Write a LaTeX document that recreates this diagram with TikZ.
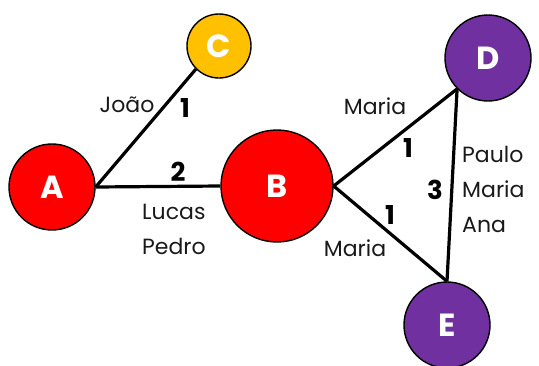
\documentclass[tikz,border=0pt]{standalone}
\usepackage{fontspec}
\setmainfont{Poppins}
\definecolor{nodered}{HTML}{FF0000}
\definecolor{nodegold}{HTML}{FFC000}
\definecolor{nodepurple}{HTML}{7030A0}
\begin{document}
\begin{tikzpicture}[x=1pt,y=-1pt,
  vertex/.style={circle,draw=black,line width=1.4pt,inner sep=0pt,text=white,
    font=\bfseries\fontsize{32}{32}\selectfont},
  link/.style={line width=3.2pt,black},
  who/.style={font=\fontsize{22}{35}\selectfont,text=black!90,inner sep=0pt,align=left},
  weight/.style={font=\bfseries\fontsize{26}{26}\selectfont,inner sep=0pt}]
\useasboundingbox (0,0) rectangle (539,365);

% vertices
\node[vertex,fill=nodered,minimum size=86pt]     (A) at (52,187)  {A};
\node[vertex,fill=nodegold,minimum size=64pt]    (C) at (219,46)  {C};
\node[vertex,fill=nodered,minimum size=112pt]    (B) at (277,186) {B};
\node[vertex,fill=nodepurple,minimum size=86pt]  (D) at (488,58)  {D};
\node[vertex,fill=nodepurple,minimum size=86pt]  (E) at (447,325) {E};

% edges
\draw[link] (A.east) -- (C.south west);
\draw[link] (A.east) -- (B.west);
\draw[link] (B.east) -- (D.south west);
\draw[link] (B.east) -- (E.north);
\draw[link] (D.south west) -- (E.north);

% edge weights
\node[weight] (wAC) at (185,108) {1};
\node[weight] (wAB) at (178,172) {2};
\node[weight] (wBD) at (408,148) {1};
\node[weight] (wBE) at (390,215) {1};
\node[weight] (wDE) at (435,190) {3};

% people on each edge
\node[who] (pAC) at (127,105) {João};
\node[who,anchor=west] (pAB) at (142,229) {Lucas\\Pedro};
\node[who] (pBD) at (375,106) {Maria};
\node[who] (pBE) at (355,248) {Maria};
\node[who,anchor=west] (pDE) at (462,189) {Paulo\\Maria\\Ana};
\end{tikzpicture}
\end{document}
